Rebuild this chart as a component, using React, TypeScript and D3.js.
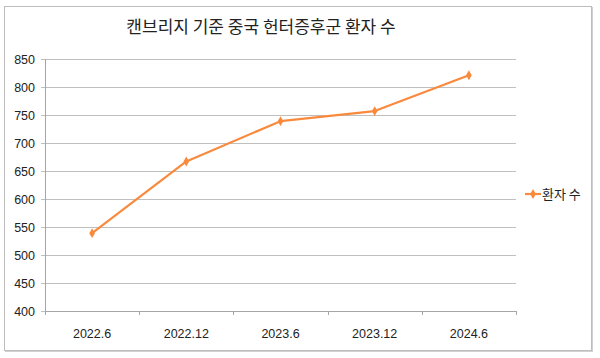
import React from "react";
import * as d3 from "d3";

const categories = ["2022.6", "2022.12", "2023.6", "2023.12", "2024.6"];
const patients = [539, 667, 739, 757, 821];
const yTicks = [400, 450, 500, 550, 600, 650, 700, 750, 800, 850];
const seriesName = "환자 수";
const title = "캔브리지 기준 중국 헌터증후군 환자 수";

export default function App() {
  const W = 600, H = 358;
  const left = 45, right = 516, top = 59, bottom = 311;
  const x = d3.scaleBand().domain(categories).range([left, right]);
  const y = d3.scaleLinear().domain([400, 850]).range([bottom, top]);
  const color = "#F98A3D";
  const line = d3.line<number>()
    .x((_, i) => (x(categories[i]) as number) + x.bandwidth() / 2)
    .y((d) => y(d));
  const diamond = d3.symbol().type(d3.symbolDiamond).size(28)();
  const font = "'Liberation Sans', 'Noto Sans CJK KR', sans-serif";
  const kfont = "'Noto Sans CJK KR', sans-serif";
  const bounds = [...categories.map((c) => x(c) as number), right];
  return (
    <svg width={W} height={H} style={{ position: "absolute", left: 0, top: 0 }}>
      <rect x={0} y={0} width={W} height={H} fill="#fff" />
      <rect x={4.5} y={6.5} width={587} height={344} fill="#fff" stroke="#BDBDBD" strokeWidth={1} />
      <line x1={592.5} y1={7} x2={592.5} y2={352} stroke="#D0D0D0" strokeWidth={1} />
      <line x1={5} y1={351.5} x2={593} y2={351.5} stroke="#D0D0D0" strokeWidth={1} />
      <text x={261} y={33} textAnchor="middle" fontFamily={kfont} fontSize={17} fill="#222">{title}</text>
      {yTicks.map((t) => (
        <g key={t}>
          <line x1={left - 4} x2={right} y1={Math.round(y(t)) + 0.5} y2={Math.round(y(t)) + 0.5} stroke="#BFBFBF" strokeWidth={1} />
          <text x={35} y={y(t) + 4.5} textAnchor="end" fontFamily={font} fontSize={12.5} fill="#222">{t}</text>
        </g>
      ))}
      <line x1={left + 0.5} x2={left + 0.5} y1={top} y2={bottom + 4} stroke="#A6A6A6" strokeWidth={1} />
      <line x1={left} x2={right} y1={bottom + 0.5} y2={bottom + 0.5} stroke="#A6A6A6" strokeWidth={1} />
      {bounds.map((b, i) => (
        <line key={i} x1={Math.round(b) + 0.5} x2={Math.round(b) + 0.5} y1={bottom} y2={bottom + 4} stroke="#A6A6A6" strokeWidth={1} />
      ))}
      {categories.map((c) => (
        <text key={c} x={(x(c) as number) + x.bandwidth() / 2} y={338} textAnchor="middle" fontFamily={font} fontSize={12.5} fill="#222">{c}</text>
      ))}
      <path d={line(patients) || ""} fill="none" stroke={color} strokeWidth={2.2} strokeLinejoin="round" />
      {patients.map((v, i) => (
        <path key={i} d={diamond || ""} transform={`translate(${(x(categories[i]) as number) + x.bandwidth() / 2},${y(v)})`} fill={color} />
      ))}
      <line x1={525} x2={541} y1={194} y2={194} stroke={color} strokeWidth={2.2} />
      <path d={diamond || ""} transform="translate(533,194)" fill={color} />
      <text x={542} y={199} fontFamily={kfont} fontSize={13} fill="#222">{seriesName}</text>
    </svg>
  );
}
